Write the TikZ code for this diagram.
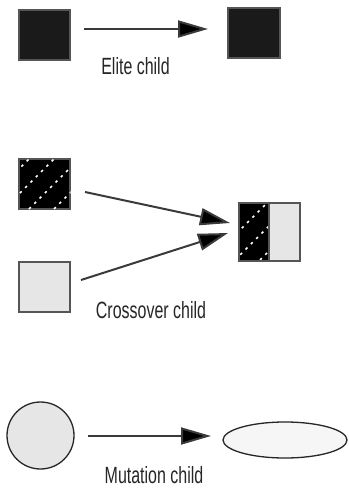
\documentclass[tikz,border=0pt]{standalone}
\usepackage{fontspec}
\setmainfont[FakeStretch=0.68]{Liberation Sans}
\usetikzlibrary{arrows.meta,shapes.geometric}
\definecolor{sqdark}{HTML}{1A1A1A}
\definecolor{sqborder}{HTML}{555555}
\definecolor{lightfill}{HTML}{E6E6E6}
\definecolor{ellfill}{HTML}{F6F6F6}
\definecolor{arrline}{HTML}{3A3A3A}
\tikzset{
  darksq/.style={draw=sqborder,line width=1.4pt,fill=sqdark,minimum width=51pt,minimum height=50pt,inner sep=0pt},
  lightsq/.style={draw=sqborder,line width=1.6pt,fill=lightfill,minimum width=51pt,minimum height=50pt,inner sep=0pt},
  patsq/.style={draw=sqborder,line width=1.2pt,fill=black,minimum width=51pt,minimum height=50pt,inner sep=0pt},
  arr/.style={draw=arrline,line width=2pt,-{Triangle[length=30pt,width=17pt,fill=black]}},
  lbl/.style={font=\fontsize{23.5}{23.5}\selectfont,text=black!85,anchor=base,inner sep=0pt},
  marks/.style={white,line width=1.6pt,dash pattern=on 2.5pt off 5pt}
}
\begin{document}
\begin{tikzpicture}[x=1pt,y=-1pt]
\useasboundingbox (0,0) rectangle (348,489);
% Elite
\node[darksq] (e1) at (44.5,35) {};
\node[darksq,minimum width=52pt] (e2) at (254,33) {};
\coordinate (e1s) at (84,29);
\coordinate (e2t) at (208,29);
\draw[arr] (e1s) -- (e2t);
\node[lbl] (elbl) at (135.5,75) {Elite child};
% Crossover
\node[patsq] (p1) at (44.5,184) {};
\begin{scope}
\clip (p1.south west) rectangle (p1.north east);
\foreach \o in {-40,-15,10,35,60}{
  \draw[marks] (19+\o,209) -- ++(50,-50);
}
\end{scope}
\node[lightsq] (p2) at (44.5,287) {};
\node[draw=sqborder,line width=1.6pt,minimum width=59pt,minimum height=56pt,inner sep=0pt] (c) at (269.5,232) {};
\fill[black] (c.south west) rectangle (269,204);
\begin{scope}
\clip (c.south west) rectangle (269,204);
\foreach \o in {-30,-5,20}{
  \draw[marks] (240+\o,260) -- ++(56,-56);
}
\end{scope}
\fill[lightfill] (269,260) rectangle (c.north east);
\draw[sqborder,line width=1.6pt] (c.south west) rectangle (c.north east);
\draw[sqborder,line width=1.2pt] (269,204) -- (269,260);
\coordinate (p1s) at (85,192);
\coordinate (p1t) at (230,223);
\coordinate (p2s) at (81,280);
\coordinate (p2t) at (228,233);
\draw[arr] (p1s) -- (p1t);
\draw[arr] (p2s) -- (p2t);
\node[lbl] (clbl) at (151,318) {Crossover child};
% Mutation
\node[circle,draw=black!85,line width=1.3pt,fill=lightfill,minimum size=67pt,inner sep=0pt] (m1) at (40.5,435.5) {};
\node[ellipse,draw=black!85,line width=1.3pt,fill=ellfill,minimum width=124pt,minimum height=36pt,inner sep=0pt] (m2) at (285,440) {};
\coordinate (m1s) at (88,436);
\coordinate (m2t) at (211,436);
\draw[arr] (m1s) -- (m2t);
\node[lbl] (mlbl) at (154,483) {Mutation child};
\end{tikzpicture}
\end{document}
